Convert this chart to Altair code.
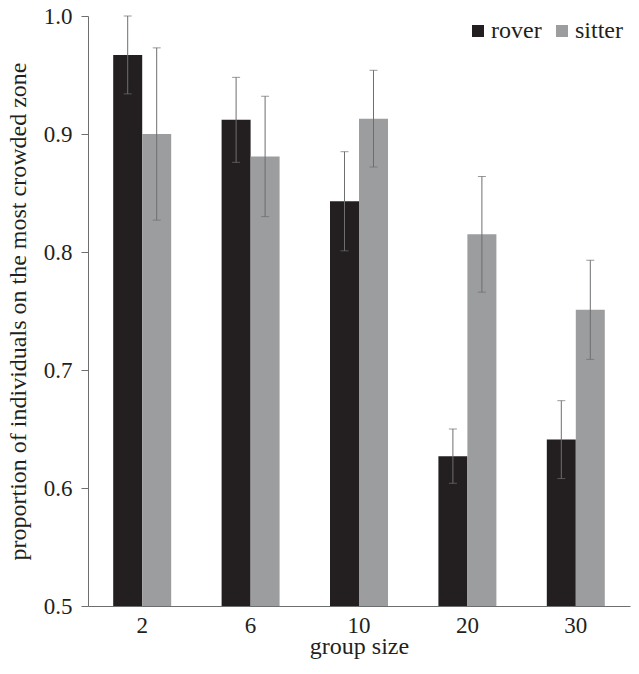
import altair as alt
import pandas as pd

groups = ["2", "6", "10", "20", "30"]
series = ["rover", "sitter"]
rover = [0.967, 0.912, 0.843, 0.627, 0.641]
rover_err = [0.033, 0.036, 0.042, 0.023, 0.033]
sitter = [0.900, 0.881, 0.913, 0.815, 0.751]
sitter_err = [0.073, 0.051, 0.041, 0.049, 0.042]

rows = []
for g, v, e in zip(groups, rover, rover_err):
    rows.append({"group": g, "series": "rover", "value": v, "lo": v - e, "hi": min(v + e, 1.0)})
for g, v, e in zip(groups, sitter, sitter_err):
    rows.append({"group": g, "series": "sitter", "value": v, "lo": v - e, "hi": v + e})
df = pd.DataFrame(rows)

FONT = "Liberation Serif, Times New Roman, DejaVu Serif, serif"
AX = "#6d6e70"
TXT = "#231f20"

x = alt.X("group:N", sort=groups,
          scale=alt.Scale(paddingInner=0.465, paddingOuter=0.2325),
          axis=alt.Axis(title="group size", labelAngle=0, ticks=False, tickSize=0,
                        labelPadding=8, titleY=47, titleBaseline="alphabetic",
                        domainColor=AX,
                        labelFont=FONT, labelFontSize=23, labelColor=TXT,
                        titleFont=FONT, titleFontSize=24, titleFontWeight="normal",
                        titleColor=TXT))
xo = alt.XOffset("series:N", sort=series, scale=alt.Scale(paddingInner=0, paddingOuter=0))
yscale = alt.Scale(domain=[0.5, 1.0], zero=False, nice=False, padding=0)

bars = alt.Chart(df).mark_bar().encode(
    x=x,
    xOffset=xo,
    y=alt.Y("value:Q", scale=yscale,
            axis=alt.Axis(title="proportion of individuals on the most crowded zone",
                          values=[0.5, 0.6, 0.7, 0.8, 0.9, 1.0], format=".1f",
                          grid=False, tickSize=7, tickColor=AX, domainColor=AX,
                          labelPadding=9, titleX=-70, titleBaseline="middle",
                          labelFont=FONT, labelFontSize=23, labelColor=TXT,
                          titleFont=FONT, titleFontSize=24, titleFontWeight="normal",
                          titleColor=TXT)),
    y2=alt.datum(0.5),
    color=alt.Color("series:N",
                    scale=alt.Scale(domain=series, range=["#231f20", "#9c9d9f"]),
                    legend=alt.Legend(title=None, orient="none", legendX=378, legendY=3,
                                      direction="horizontal", symbolType="square",
                                      symbolSize=144, symbolStrokeWidth=0,
                                      labelFont=FONT, labelFontSize=24, labelColor=TXT,
                                      columnPadding=8, labelOffset=1, padding=0)),
)

rules = alt.Chart(df).mark_rule(color=AX, strokeWidth=1).encode(
    x=x, xOffset=xo,
    y=alt.Y("lo:Q", scale=yscale),
    y2="hi:Q",
)

caps = alt.Chart(df).transform_fold(["lo", "hi"], as_=["end", "pos"]).mark_tick(
    color=AX, thickness=1, size=8
).encode(
    x=x, xOffset=xo,
    y=alt.Y("pos:Q", scale=yscale),
)

chart = alt.layer(bars, rules, caps).properties(
    width=542, height=590,
    padding={"left": 80, "top": 8, "right": 1, "bottom": 53},
    autosize="none",
).configure_view(stroke=None)

chart.save("out.html", embed_options={"renderer": "svg", "actions": False})
